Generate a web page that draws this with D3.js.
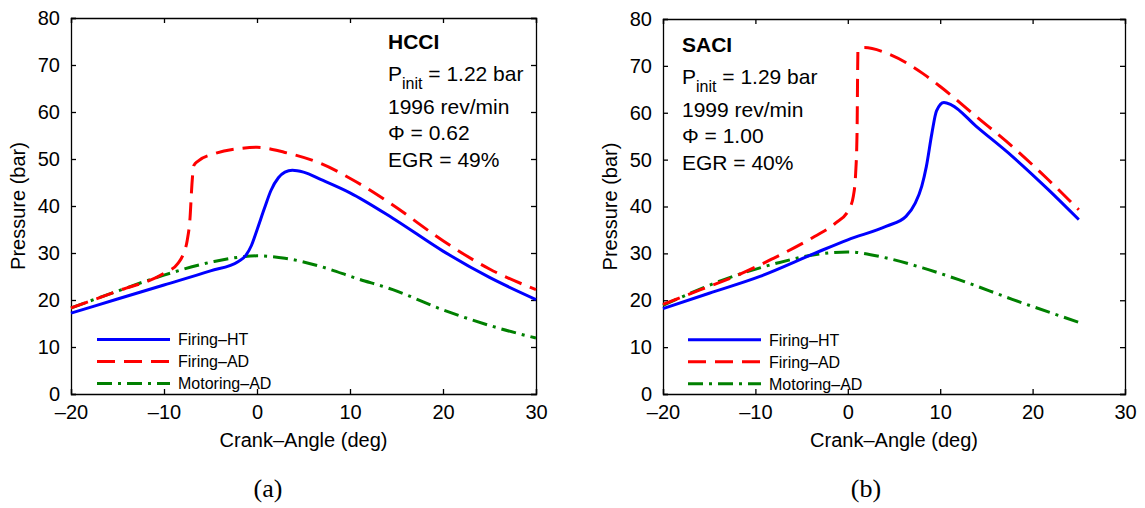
<!DOCTYPE html>
<html>
<head>
<meta charset="utf-8">
<script src="https://cdn.jsdelivr.net/npm/d3@7"></script>
<style>
	body { margin: 0; background: #fff; }
	svg { display: block; font-family: "Liberation Sans", Arial, sans-serif; }
</style>
</head>
<body>
<svg id="chart" width="1145" height="508"></svg>
<script>
// shared axis ticks
var xTicks = [-20, -10, 0, 10, 20, 30];
var yTicks = [0, 10, 20, 30, 40, 50, 60, 70, 80];
var seriesNames = ["Firing\u2013HT", "Firing\u2013AD", "Motoring\u2013AD"];

// (a) HCCI  -- [crank angle, pressure]
var hcciFiringHT = [[-20, 17.2], [-15, 20.2], [-10, 23.2], [-5, 26.2], [-2, 28.2], [-1.2, 29.5], [-0.6, 31.6],
	[0, 34.9], [0.8, 39.5], [1.5, 43.3], [2.3, 46.0], [3.0, 47.2], [3.8, 47.6], [5, 47.2], [6.9, 45.6],
	[10, 42.8], [14.6, 37.4], [20, 30.4], [25, 24.8], [30, 20.1]];
var hcciFiringAD = [[-20, 18.3], [-15, 21.9], [-10, 25.7], [-8.5, 27.8], [-7.9, 29.9], [-7.5, 32.7], [-7.2, 37.5],
	[-7.0, 44.5], [-6.8, 48.6], [-6.3, 49.6], [-4.6, 51.1], [-2, 52.2], [0, 52.5], [3, 51.4], [6.9, 49.0],
	[10.7, 45.1], [14.6, 40.2], [20, 32.6], [25, 26.6], [30, 22.2]];
var hcciMotoringAD = [[-20, 18.3], [-15, 21.9], [-10, 25.3], [-4.6, 28.2], [-1.5, 29.2], [0, 29.4], [3, 28.9],
	[6.9, 27.1], [10.7, 24.6], [14.6, 22.2], [20, 17.9], [26, 14.0], [30, 11.9]];
var hcciNotes = ["HCCI", "1.22 bar", "1996 rev/min", "0.62", "49%"];

// (b) SACI
var saciFiringHT = [[-20, 18.2], [-15, 21.5], [-9.5, 25.1], [-3.6, 30.0], [0, 32.9], [4.2, 35.8], [6.3, 37.9],
	[7.3, 40.7], [8.0, 44.3], [8.5, 48.5], [9.1, 55.6], [9.6, 60.4], [10.4, 62.2], [11.2, 61.7], [13.9, 57.1],
	[17.8, 50.7], [21.7, 43.6], [25, 37.2]];
var saciFiringAD = [[-20, 19.1], [-16, 22.2], [-12.2, 25.1], [-8.3, 28.7], [-3.6, 33.6], [-1.3, 36.5], [0.1, 39.3],
	[0.6, 42.2], [0.85, 47.1], [1.0, 55.6], [1.1, 73.4], [1.8, 73.9], [4.2, 72.7], [8.1, 68.4], [10, 65.6],
	[13.9, 59.2], [17.8, 52.8], [21.7, 45.7], [25, 39.3]];
var saciMotoringAD = [[-20, 18.9], [-13.4, 24.4], [-7.5, 28.0], [-3.6, 29.7], [0, 30.3], [4.2, 29.0], [8.1, 26.9],
	[12, 24.4], [17.8, 20.2], [25, 15.3]];
var saciNotes = ["SACI", "1.29 bar", "1999 rev/min", "1.00", "40%"];

var styles = [
	{ color: "#0000ff", dash: null },
	{ color: "#ff0000", dash: "18,9" },
	{ color: "#008000", dash: "15,6,3,6" }
];

var svg = d3.select("#chart");

function drawPanel(p) {
	var width = p.right - p.left, height = p.bottom - p.top;
	var g = svg.append("g").attr("transform", "translate(" + p.left + "," + p.top + ")");

	var x = d3.scaleLinear().domain([-20, 30]).range([0, width]);
	var y = d3.scaleLinear().domain([0, 80]).range([height, 0]);
	var fmt = function (d) { return d < 0 ? "\u2013" + Math.abs(d) : d; };

	// box axes, MATLAB style inward ticks
	var xb = g.append("g").attr("transform", "translate(0," + height + ")")
		.call(d3.axisBottom(x).tickValues(xTicks).tickSize(-5).tickPadding(14).tickFormat(fmt));
	var yl = g.append("g")
		.call(d3.axisLeft(y).tickValues(yTicks).tickSize(-5).tickPadding(11));
	g.append("g").call(d3.axisTop(x).tickValues(xTicks).tickSize(-5).tickFormat(""));
	g.append("g").attr("transform", "translate(" + width + ",0)")
		.call(d3.axisRight(y).tickValues(yTicks).tickSize(-5).tickFormat(""));
	g.selectAll(".domain, .tick line").attr("stroke", "#000").attr("stroke-width", 1.3);
	g.selectAll(".tick text").attr("font-size", 20).attr("fill", "#000")
		.attr("font-family", "Liberation Sans, Arial, sans-serif");
	xb.selectAll(".tick text").attr("dy", "0.55em");

	var line = d3.line()
		.x(function (d) { return x(d[0]); })
		.y(function (d) { return y(d[1]); })
		.curve(d3.curveMonotoneX);

	// draw motoring first so firing lines sit on top
	[2, 1, 0].forEach(function (i) {
		g.append("path")
			.attr("d", line(p.series[i]))
			.attr("fill", "none")
			.attr("stroke", styles[i].color)
			.attr("stroke-width", 3)
			.attr("stroke-dasharray", styles[i].dash);
	});

	// legend
	var lg = g.append("g").attr("transform", "translate(" + p.legendX + ",0)");
	seriesNames.forEach(function (name, i) {
		var ly = y(p.legendY) + i * 22;
		lg.append("line").attr("x1", 0).attr("x2", 73).attr("y1", ly).attr("y2", ly)
			.attr("stroke", styles[i].color).attr("stroke-width", 3)
			.attr("stroke-dasharray", styles[i].dash);
		lg.append("text").attr("x", 81).attr("y", ly + 6).attr("font-size", 16).text(name);
	});

	// annotation block
	var ax = p.noteX, n = p.notes;
	g.append("text").attr("x", ax).attr("y", p.noteY).attr("font-size", 21)
		.attr("font-weight", "bold").text(n[0]);
	var t = g.append("text").attr("x", ax).attr("y", p.noteY + 32).attr("font-size", 21);
	t.append("tspan").text("P");
	t.append("tspan").attr("font-size", 16).attr("dy", 8).text("init");
	t.append("tspan").attr("dy", -8).text(" = " + n[1]);
	g.append("text").attr("x", ax).attr("y", p.noteY + 65).attr("font-size", 21).text(n[2]);
	g.append("text").attr("x", ax).attr("y", p.noteY + 91).attr("font-size", 21)
		.text("\u03A6 = " + n[3]);
	g.append("text").attr("x", ax).attr("y", p.noteY + 118).attr("font-size", 21)
		.text("EGR = " + n[4]);

	// axis titles
	g.append("text").attr("x", width / 2).attr("y", height + 53)
		.attr("text-anchor", "middle").attr("font-size", 20).text("Crank\u2013Angle (deg)");
	g.append("text").attr("transform", "translate(" + (-46) + "," + (height / 2) + ") rotate(-90)")
		.attr("text-anchor", "middle").attr("font-size", 20).text("Pressure (bar)");

	svg.append("text").attr("x", p.capX).attr("y", 497).attr("text-anchor", "middle")
		.attr("font-family", "Liberation Serif, Times New Roman, serif").attr("font-size", 26)
		.text(p.caption);
}

drawPanel({ left: 71, right: 536, top: 18, bottom: 394, series: [hcciFiringHT, hcciFiringAD, hcciMotoringAD],
	notes: hcciNotes, noteX: 317, noteY: 31, legendX: 26, legendY: 11.6, capX: 268, caption: "(a)" });
drawPanel({ left: 663, right: 1125, top: 19, bottom: 394, series: [saciFiringHT, saciFiringAD, saciMotoringAD],
	notes: saciNotes, noteX: 19, noteY: 33, legendX: 25, legendY: 11.6, capX: 866, caption: "(b)" });
</script>
</body>
</html>
